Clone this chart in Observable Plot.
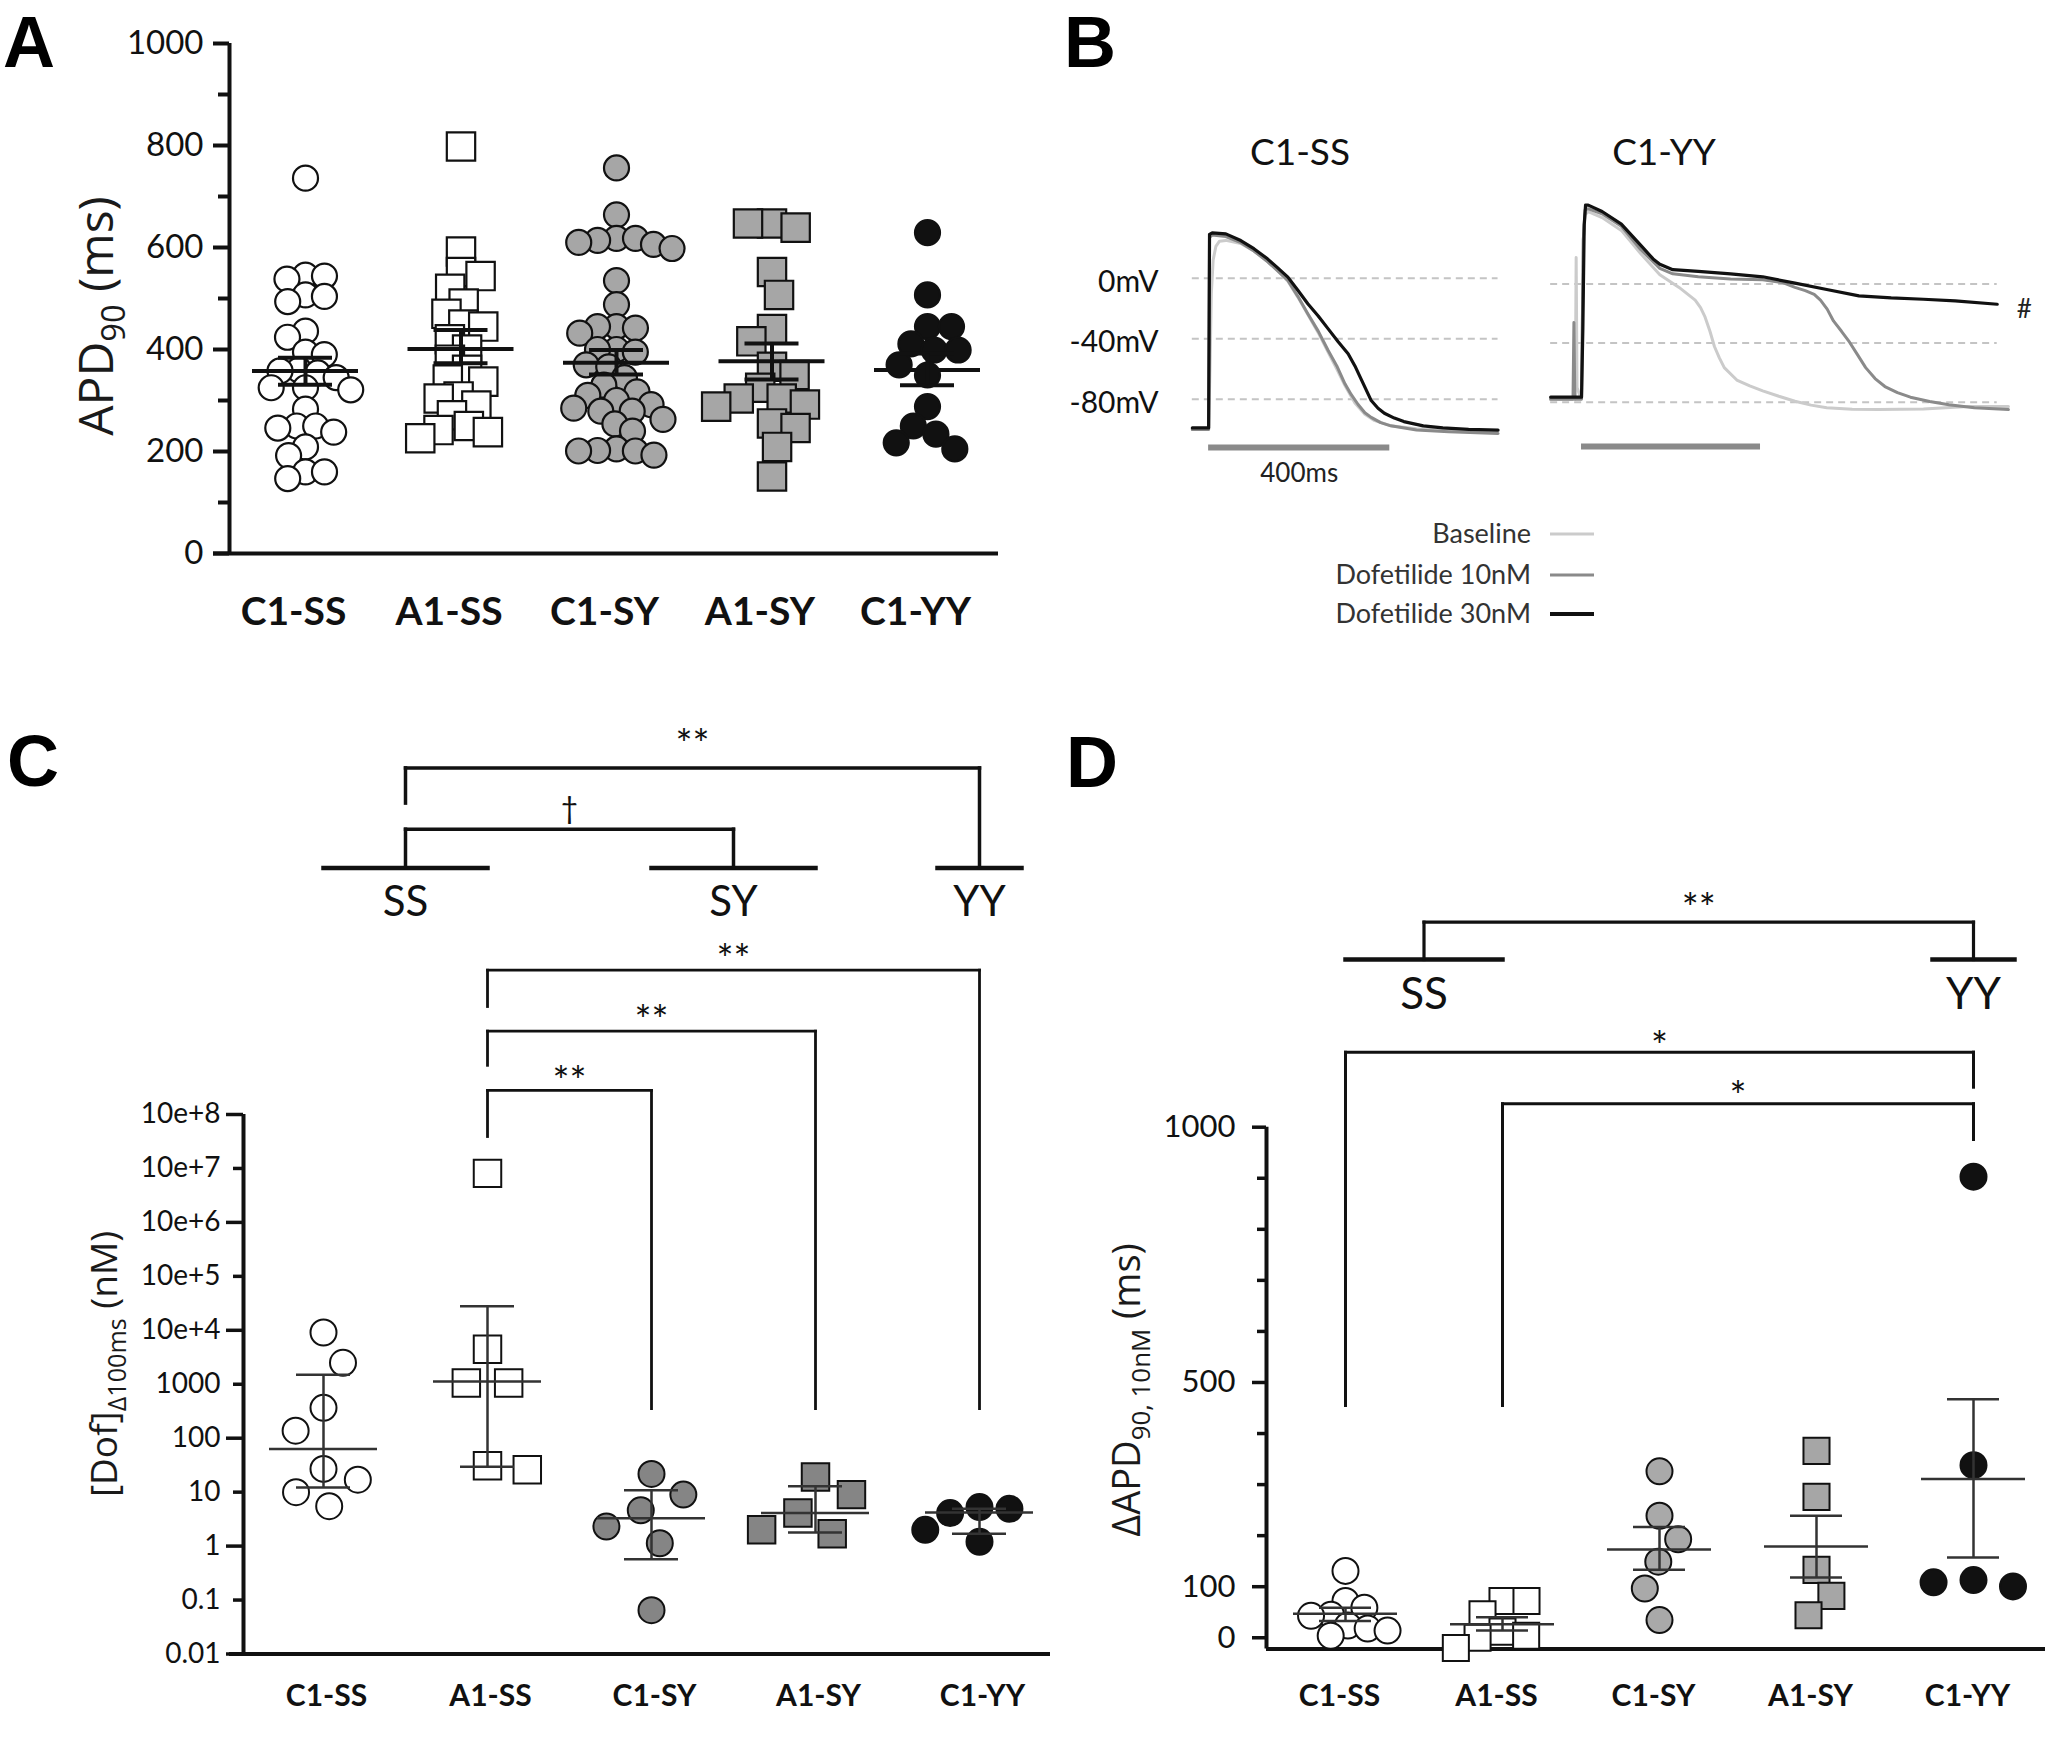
<!DOCTYPE html>
<html>
<head>
<meta charset="utf-8">
<script src="https://cdn.jsdelivr.net/npm/d3@7"></script>
<script src="https://cdn.jsdelivr.net/npm/@observablehq/plot@0.6"></script>
<style>
  body { margin: 0; background: #fff; }
  #fig { position: relative; width: 2064px; height: 1744px; background: #fff; overflow: hidden; font-family: Lato, sans-serif; color: #111; }
  svg text, svg tspan { white-space: pre; }
</style>
</head>
<body>
<div id="fig"></div>
<script>
// ---------------- DATA ----------------
const groups = ["C1-SS", "A1-SS", "C1-SY", "A1-SY", "C1-YY"];

// Panel A : APD90 (ms)
const apdC1SS = [736, 546, 544, 538, 507, 504, 494, 436, 424, 395, 390, 360, 358, 354, 345, 325, 325, 321, 283, 250, 250, 246, 238, 209, 192, 160, 160, 147];
const apdA1SS = [798, 592, 552, 544, 519, 490, 470, 449, 445, 420, 400, 380, 360, 341, 337, 308, 304, 290, 271, 250, 242, 238, 226];
const apdC1SY = [756, 664, 618, 618, 614, 610, 606, 598, 535, 488, 445, 445, 442, 432, 400, 400, 395, 370, 366, 345, 330, 317, 310, 300, 292, 285, 279, 279, 263, 254, 240, 205, 202, 201, 201, 193];
const apdA1SY = [647, 639, 647, 552, 507, 440, 416, 366, 350, 325, 304, 304, 292, 288, 255, 246, 209, 151];
const apdC1YY = [629, 507, 445, 445, 411, 399, 399, 370, 350, 288, 250, 234, 217, 205];
const apdMean = [358, 401, 374, 377, 360];
const apdSemLo = [331, 373, 351, 341, 330];
const apdSemHi = [384, 438, 399, 412, 392];
const apdTicks = [0, 200, 400, 600, 800, 1000];
const apdMinorTicks = [100, 300, 500, 700, 900];

// Panel B : action potentials [time ms, mV]
const mvTicks = [0, -40, -80];
const scaleBarMs = 400;
const ssBaseline = [[-36,-100],[-2,-100],[0,-100],[3,-60],[6,-10],[10,12],[16,21],[24,24.5],[38,25],[71,23],[100,18],[130,11],[152,5],[175,-2],[197,-12.5],[219,-24],[242,-36],[264,-49],[283,-60],[301,-71],[323,-82.5],[345,-90],[365,-94],[402,-97.5],[459,-99.5],[530,-100.5],[639,-101]];
const ss10 = [[-36,-100],[-2,-100],[0,-100],[1,-40],[2,27],[8,28.5],[38,27.5],[71,23.5],[100,18],[130,11],[152,5],[175,-1.5],[197,-12],[219,-23.5],[242,-35],[264,-47.8],[283,-58],[301,-69.8],[315,-77],[330,-83.5],[345,-89],[359,-92],[380,-95.5],[402,-97.6],[459,-100.4],[530,-101.5],[639,-102.6]];
const ss30 = [[-36,-99],[-2,-99],[0,-99],[1,-40],[2,29],[8,30],[38,29.3],[71,24.9],[100,19.5],[130,12.8],[152,7],[175,0.7],[197,-8],[219,-16.9],[242,-25],[264,-33.5],[286,-42],[308,-50],[323,-58],[338,-67.6],[359,-80.9],[374,-86],[388,-89.3],[410,-92.5],[431,-94.8],[474,-97.6],[517,-99],[574,-99.9],[639,-100.4]];
const yyBaseline = [[-69,-78],[-14,-78],[-12,18],[-10,-70],[-2,-77],[0,-77],[4,30],[8,47],[15,49],[46,45],[89,36.3],[132,20.6],[175,6.3],[218,-2.3],[254,-10.9],[266,-16],[276,-22.3],[287,-32],[297,-42.3],[308,-50],[319,-56.6],[347,-65],[376,-69],[405,-72.3],[441,-76],[477,-79.4],[513,-82],[548,-83.7],[605,-84.8],[663,-85],[764,-84.6],[864,-82.9],[954,-82.9]];
const yy10 = [[-69,-78],[-19,-78],[-17,-26],[-15,-78],[-2,-78],[0,-78],[4,30],[8,50],[14,51],[46,47.5],[89,39.1],[132,23.4],[175,10.6],[204,6.9],[261,4.9],[333,3.4],[405,2.9],[450,1],[477,-2.3],[500,-4.5],[520,-7],[534,-10.9],[549,-17],[563,-25],[581,-32],[599,-39.4],[617,-48],[635,-56.6],[656,-64],[678,-69.4],[706,-73.5],[735,-76.6],[778,-79.5],[821,-81.7],[878,-83.7],[954,-85]];
const yy30 = [[-69,-76.6],[-4,-76.6],[0,-76.6],[3,-30],[6,40],[9,53.4],[15,53.4],[46,49.1],[89,40.6],[132,26.3],[160,17],[175,13.4],[204,9.7],[261,8.6],[333,6.9],[405,4.9],[477,0.6],[548,-3.7],[620,-8],[692,-9.4],[764,-10.3],[835,-11.4],[929,-13.7]];
const legendLabels = ["Baseline", "Dofetilide 10nM", "Dofetilide 30nM"];

// Panel C : [Dof] at delta 100 ms (nM), geometric mean and 95% CI
const dofC1SS = [9100, 2500, 365, 138, 27, 17, 10, 5.5];
const dofA1SS = [8.1e6, 4470, 1050, 1050, 31, 26];
const dofC1SY = [21.8, 9, 4.6, 2.3, 1.13, 0.065];
const dofA1SY = [19, 9, 4.1, 2.0, 1.7];
const dofC1YY = [5.3, 4.9, 4.1, 2.0, 1.2];
const dofMean = [63, 1120, 3.3, 4.1, 4.2];
const dofLo = [12.2, 29.5, 0.57, 1.79, 1.7];
const dofHi = [1500, 28000, 10.8, 12.9, 4.9];
const dofTickValues = [0.01, 0.1, 1, 10, 100, 1000, 1e4, 1e5, 1e6, 1e7, 1e8];
const dofTickLabels = ["0.01", "0.1", "1", "10", "100", "1000", "10e+4", "10e+5", "10e+6", "10e+7", "10e+8"];

// Panel D : delta APD90 at 10 nM (ms)
const dApdC1SS = [131, 72, 59, 45, 43, 24, 18, 14, 4];
const dApdA1SS = [72, 72, 46, 12, 4, 0, -20];
const dApdC1SY = [326, 239, 193, 149, 96.5, 34.6];
const dApdA1SY = [366, 276, 133, 82, 44];
const dApdC1YY = [903, 338, 113, 100.6, 108.6];
const dApdMean = [47, 26.5, 173, 178.6, 311];
const dApdLo = [33, 14, 133, 118, 157];
const dApdHi = [59, 40, 217, 239, 467];
const dApdLabelTicks = [0, 100, 500, 1000];
const dApdMinorTicks = [200, 300, 400, 600, 700, 800, 900];

// Genotype groups and significance comparisons
const genotypeGroups = [["SS", ["C1-SS", "A1-SS"]], ["SY", ["C1-SY", "A1-SY"]], ["YY", ["C1-YY"]]];
const cGenoComparisons = [["SS", "YY", "**"], ["SS", "SY", "\u2020"]];
const cComparisons = [["A1-SS", "C1-YY", "**"], ["A1-SS", "A1-SY", "**"], ["A1-SS", "C1-SY", "**"]];
const dGenoComparisons = [["SS", "YY", "**"]];
const dComparisons = [["C1-SS", "C1-YY", "*"], ["A1-SS", "C1-YY", "*"]];

// ---------------- HELPERS ----------------
const fig = document.getElementById("fig");
const baseStyle = {fontFamily: "Lato, sans-serif", color: "#111", background: "transparent", overflow: "visible"};

function place(svg, left, top) {
  svg.style.position = "absolute";
  svg.style.left = left + "px";
  svg.style.top = top + "px";
  svg.style.maxWidth = "none";
  svg.style.background = "transparent";
  svg.style.overflow = "visible";
  fig.appendChild(svg);
  return svg;
}

// beeswarm offsets (pixels): dots of a group spread sideways, balanced left/right
function swarm(values, yPx, dmin) {
  const placed = [], out = [];
  let sum = 0;
  for (const v of values) {
    const py = yPx(v);
    const cands = [0];
    for (const p of placed) {
      const dy = py - p.y;
      if (Math.abs(dy) < dmin) {
        const dx = Math.sqrt(dmin * dmin - dy * dy);
        cands.push(p.x - dx, p.x + dx);
      }
    }
    const valid = cands.filter(c => placed.every(p => (p.x - c) ** 2 + (p.y - py) ** 2 >= dmin * dmin - 0.01));
    valid.sort((a, b) => Math.abs(a) - Math.abs(b));
    let best = valid.length ? valid[0] : 0;
    const ties = valid.filter(c => Math.abs(Math.abs(c) - Math.abs(best)) < 3);
    if (ties.length > 1) {
      const pref = ties.find(c => (sum > 0 ? c < 0 : c > 0));
      if (pref !== undefined) best = pref;
    }
    sum += best;
    placed.push({x: best, y: py});
    out.push(best);
  }
  return out;
}

function scatterPanel(o) {
  const x0 = (o.mL - o.c0) / o.step;
  const x1 = (o.width - o.mR - o.c0) / o.step;
  const yPx = (o.yType === "log" ? d3.scaleLog() : d3.scaleLinear()).domain(o.yDomain).range([o.height - o.mB, o.mT]);
  const rows = [];
  o.series.forEach((vals, gi) => {
    const offs = swarm(vals, yPx, o.styles[gi].dmin);
    vals.forEach((v, k) => rows.push({g: gi, v, xp: gi + offs[k] / o.step}));
  });
  const statRows = o.mean.map((m, i) => ({i, mean: m, lo: o.lo[i], hi: o.hi[i]}));
  const mh = o.meanHalf / o.step, ch = o.capHalf / o.step;
  const ls = {stroke: o.lineColor, strokeWidth: o.lineW};
  const marks = [
    Plot.ruleY([o.yDomain[0]], {insetLeft: -o.xAxisExt, stroke: "#111", strokeWidth: 4}),
    Plot.ruleX([x0], {y1: o.yDomain[0], y2: o.yDomain[1], stroke: "#111", strokeWidth: 4}),
    ...o.axes,
    Plot.axisX({ticks: d3.range(groups.length), tickFormat: i => groups[i], tickSize: 0, tickPadding: o.catPad,
      fontSize: o.catSize, fontWeight: "bold", dx: o.catDx, label: null}),
    ...o.styles.map((st, gi) => Plot.dot(rows.filter(r => r.g === gi), {
      x: "xp", y: "v", r: st.r, symbol: st.symbol, fill: st.fill, stroke: "#111", strokeWidth: o.dotStroke})),
    Plot.ruleY(statRows, {x1: d => d.i - mh, x2: d => d.i + mh, y: "mean", ...ls}),
    Plot.ruleY(statRows, {x1: d => d.i - ch, x2: d => d.i + ch, y: "lo", ...ls}),
    Plot.ruleY(statRows, {x1: d => d.i - ch, x2: d => d.i + ch, y: "hi", ...ls}),
    Plot.ruleX(statRows, {x: "i", y1: "lo", y2: "hi", ...ls})
  ];
  const svg = Plot.plot({
    width: o.width, height: o.height,
    marginLeft: o.mL, marginRight: o.mR, marginTop: o.mT, marginBottom: o.mB,
    x: {domain: [x0, x1]},
    y: {type: o.yType, domain: o.yDomain},
    style: baseStyle,
    marks
  });
  d3.select(svg).selectAll('[aria-label="x-axis tick label"] text, [aria-label="x-axis tick label"]').attr("font-weight", "bold");
  return place(svg, o.left, o.top);
}

function bracketPanel(o) {
  const idx = name => groups.indexOf(name);
  const ext = o.singleExt / o.step;
  const geno = {};
  genotypeGroups.forEach(([name, members]) => {
    const is = members.map(idx);
    const a = Math.min(...is), b = Math.max(...is);
    geno[name] = {a, b, mid: (a + b) / 2, single: a === b};
  });
  const bars = [], genoLinks = [], compLinks = [], labels = [];
  const used = new Set(o.genoComparisons.flatMap(c => [c[0], c[1]]));
  genotypeGroups.forEach(([name]) => {
    if (!used.has(name)) return;
    const g = geno[name];
    bars.push({x1: g.single ? g.a - ext : g.a, x2: g.single ? g.b + ext : g.b, y1: o.genoBarY, y2: o.genoBarY});
    labels.push({x: g.mid, y: o.genoLabelY, text: name, size: o.genoLabelSize});
  });
  o.genoComparisons.forEach(([g1, g2, star], k) => {
    const m1 = geno[g1].mid, m2 = geno[g2].mid, y = o.genoY[k];
    genoLinks.push({x1: m1, x2: m2, y1: y, y2: y});
    genoLinks.push({x1: m1, x2: m1, y1: y, y2: o.genoLegL[k]});
    genoLinks.push({x1: m2, x2: m2, y1: y, y2: o.genoLegR[k]});
    labels.push({x: (m1 + m2) / 2, y: o.genoStarY[k], text: star, size: star === "\u2020" ? o.daggerSize : o.starSize});
  });
  o.comparisons.forEach(([c1, c2, star], k) => {
    const a = idx(c1), b = idx(c2), y = o.compY[k];
    compLinks.push({x1: a, x2: b, y1: y, y2: y});
    compLinks.push({x1: a, x2: a, y1: y, y2: o.compLegL[k]});
    compLinks.push({x1: b, x2: b, y1: y, y2: o.compLegR[k]});
    labels.push({x: (a + b) / 2, y: o.compStarY[k], text: star, size: o.starSize});
  });
  const link = (data, w) => Plot.link(data, {x1: "x1", y1: "y1", x2: "x2", y2: "y2", stroke: "#111", strokeWidth: w, strokeLinecap: "square"});
  const svg = Plot.plot({
    width: o.width, height: o.height, margin: 0,
    x: {domain: [0, groups.length - 1], range: [o.c0, o.c0 + (groups.length - 1) * o.step], axis: null},
    y: {domain: [0, o.height], range: [0, o.height], axis: null},
    style: baseStyle,
    marks: [
      link(bars, o.barW), link(genoLinks, o.genoW), link(compLinks, o.compW),
      Plot.text(labels, {x: "x", y: "y", text: "text", fontSize: d => d.size, lineAnchor: "bottom", fill: "#111"})
    ]
  });
  return place(svg, o.left, o.top);
}

// ---------------- PANEL A ----------------
scatterPanel({
  left: 0, top: 0, width: 1013, height: 660, mL: 229, mR: 15, mT: 43, mB: 107,
  c0: 305, step: 155.5, yType: "linear", yDomain: [0, 1000],
  series: [apdC1SS, apdA1SS, apdC1SY, apdA1SY, apdC1YY],
  mean: apdMean, lo: apdSemLo, hi: apdSemHi,
  styles: [
    {symbol: "circle", r: 12.5, fill: "#fff", dmin: 19},
    {symbol: "square", r: 16, fill: "#fff", dmin: 20},
    {symbol: "circle", r: 12.5, fill: "#a6a6a6", dmin: 19},
    {symbol: "square", r: 16, fill: "#a6a6a6", dmin: 24},
    {symbol: "circle", r: 12.5, fill: "#111", dmin: 24}
  ],
  dotStroke: 2.2, meanHalf: 53, capHalf: 27, lineW: 4, lineColor: "#111",
  xAxisExt: 16, catPad: 44, catSize: 39, catDx: -12,
  axes: [
    Plot.axisY({ticks: apdTicks, tickSize: 16, tickPadding: 10, fontSize: 33, strokeWidth: 4, tickFormat: d => String(d), label: null}),
    Plot.axisY({ticks: apdMinorTicks, tickSize: 11, strokeWidth: 4, tickFormat: () => "", label: null})
  ]
});

// ---------------- PANEL B ----------------
const traceStyles = [
  {stroke: "#cbcbcb", strokeWidth: 3},
  {stroke: "#8a8a8a", strokeWidth: 3},
  {stroke: "#111", strokeWidth: 3.2}
];
function traceMarks(series) {
  return series.map((s, i) => Plot.line(s, {x: d => d[0], y: d => d[1], ...traceStyles[i], strokeLinejoin: "round"}));
}
const dashStyle = {stroke: "#c4c4c4", strokeWidth: 2, strokeDasharray: "7,5"};

place(Plot.plot({
  width: 460, height: 660, marginLeft: 137, marginRight: 15, marginTop: 217.2, marginBottom: 212.9,
  x: {domain: [-40, 640], axis: null},
  y: {domain: [-112, 40]},
  style: baseStyle,
  marks: [
    Plot.ruleY(mvTicks, {x1: ss30[0][0], x2: ss30[ss30.length - 1][0], ...dashStyle}),
    Plot.axisY({ticks: mvTicks, tickSize: 0, tickPadding: 32, fontSize: 30, dy: 4, tickFormat: d => d + "mV", label: null}),
    ...traceMarks([ssBaseline, ss10, ss30]),
    Plot.ruleY([-112], {x1: 0, x2: scaleBarMs, stroke: "#8a8a8a", strokeWidth: 6}),
    Plot.text([scaleBarMs + "ms"], {x: scaleBarMs / 2, y: -112, dy: 34, lineAnchor: "bottom", fontSize: 26, fill: "#222"})
  ]
}), 1053, 0);

place(Plot.plot({
  width: 551, height: 660, marginLeft: 36.7, marginRight: 53.4, marginTop: 194.9, marginBottom: 214,
  x: {domain: [-70, 960], axis: null},
  y: {domain: [-110, 60], axis: null},
  style: baseStyle,
  marks: [
    Plot.ruleY(mvTicks, {x1: yy30[0][0], x2: yy30[yy30.length - 1][0], ...dashStyle}),
    ...traceMarks([yyBaseline, yy10, yy30]),
    Plot.ruleY([-110], {x1: 0, x2: scaleBarMs, stroke: "#8a8a8a", strokeWidth: 6}),
    Plot.text([yy30[yy30.length - 1]], {x: d => d[0], y: d => d[1], text: () => "#", dx: 27, dy: 5, fontSize: 26, fill: "#222"})
  ]
}), 1513, 0);

// ---------------- PANEL C ----------------
scatterPanel({
  left: 0, top: 700, width: 1053, height: 1044, mL: 243, mR: 3, mT: 414, mB: 90.5,
  c0: 323, step: 164, yType: "log", yDomain: [0.01, 1e8],
  series: [dofC1SS, dofA1SS, dofC1SY, dofA1SY, dofC1YY],
  mean: dofMean, lo: dofLo, hi: dofHi,
  styles: [
    {symbol: "circle", r: 13, fill: "#fff", dmin: 36},
    {symbol: "square", r: 15.5, fill: "#fff", dmin: 40},
    {symbol: "circle", r: 13, fill: "#858585", dmin: 38},
    {symbol: "square", r: 15.5, fill: "#858585", dmin: 40},
    {symbol: "circle", r: 13, fill: "#111", dmin: 30}
  ],
  dotStroke: 2, meanHalf: 54, capHalf: 27, lineW: 2.5, lineColor: "#333",
  xAxisExt: 14, catPad: 31, catSize: 30, catDx: 3,
  axes: [
    Plot.axisY({ticks: dofTickValues, tickSize: 0, tickPadding: 23, fontSize: 28,
      tickFormat: d => dofTickLabels[dofTickValues.indexOf(d)], label: null}),
    Plot.axisY({ticks: dofTickValues.filter((d, i) => i % 2 === 0), tickSize: 17, strokeWidth: 3.5, tickFormat: () => "", label: null}),
    Plot.axisY({ticks: dofTickValues.filter((d, i) => i % 2 === 1), tickSize: 10, strokeWidth: 3.5, tickFormat: () => "", label: null})
  ]
});

bracketPanel({
  left: 0, top: 700, width: 1053, height: 1044, c0: 323, step: 164, singleExt: 42,
  genoComparisons: cGenoComparisons, comparisons: cComparisons,
  genoBarY: 167.5, genoLabelY: 215.6, genoLabelSize: 42,
  genoY: [67.4, 128.7], genoLegL: [102.6, 167.5], genoLegR: [167.5, 167.5], genoStarY: [58, 118],
  compY: [269.7, 330.6, 389.9], compLegL: [306, 364.8, 436], compLegR: [708, 708, 708], compStarY: [273, 334.7, 395],
  starSize: 40, daggerSize: 30, barW: 4.5, genoW: 3.5, compW: 2.8
});

// ---------------- PANEL D ----------------
scatterPanel({
  left: 1053, top: 700, width: 1011, height: 1044, mL: 213, mR: 19, mT: 426.7, mB: 95.5,
  c0: 292, step: 157, yType: "linear", yDomain: [-22, 1000],
  series: [dApdC1SS, dApdA1SS, dApdC1SY, dApdA1SY, dApdC1YY],
  mean: dApdMean, lo: dApdLo, hi: dApdHi,
  styles: [
    {symbol: "circle", r: 13, fill: "#fff", dmin: 20},
    {symbol: "square", r: 14.7, fill: "#fff", dmin: 24},
    {symbol: "circle", r: 13, fill: "#a9a9a9", dmin: 30},
    {symbol: "square", r: 14.7, fill: "#a6a6a6", dmin: 30},
    {symbol: "circle", r: 13, fill: "#111", dmin: 40}
  ],
  dotStroke: 2, meanHalf: 52, capHalf: 26, lineW: 2.5, lineColor: "#333",
  xAxisExt: 0, catPad: 36, catSize: 30, catDx: -6,
  axes: [
    Plot.axisY({ticks: dApdLabelTicks, tickSize: 14, tickPadding: 17, fontSize: 31, strokeWidth: 3.5, tickFormat: d => String(d), label: null}),
    Plot.axisY({ticks: dApdMinorTicks, tickSize: 9, strokeWidth: 3.5, tickFormat: () => "", label: null})
  ]
});

bracketPanel({
  left: 1053, top: 700, width: 1011, height: 1044, c0: 292, step: 157, singleExt: 41,
  genoComparisons: dGenoComparisons, comparisons: dComparisons,
  genoBarY: 259, genoLabelY: 308, genoLabelSize: 44,
  genoY: [221.7], genoLegL: [259], genoLegR: [259], genoStarY: [222.5],
  compY: [351.7, 403.3], compLegL: [705, 705], compLegR: [386.7, 439], compStarY: [360, 410],
  starSize: 40, daggerSize: 30, barW: 4.5, genoW: 3.2, compW: 3
});

// ---------------- ANNOTATIONS (letters, titles, legend) ----------------
const ann = d3.select(fig).append("svg")
  .attr("width", 2064).attr("height", 1744)
  .style("position", "absolute").style("left", "0px").style("top", "0px")
  .style("pointer-events", "none").style("overflow", "visible");

[["A", 3, 67], ["B", 1064, 67], ["C", 7, 786], ["D", 1066, 787]].forEach(([t, x, y]) => {
  ann.append("text").attr("x", x).attr("y", y).text(t)
    .attr("font-family", "'Liberation Sans', Arial, sans-serif").attr("font-weight", "bold").attr("font-size", 72).attr("fill", "#000");
});

function rotTitle(x, y, parts, size) {
  const t = ann.append("text").attr("transform", `translate(${x},${y}) rotate(-90)`)
    .attr("text-anchor", "middle").attr("font-family", "'Open Sans', sans-serif")
    .attr("font-size", size).attr("fill", "#1a1a1a");
  let shifted = 0;
  parts.forEach(([txt, sub]) => {
    const s = t.append("tspan").text(txt);
    const target = sub ? size * 0.25 : 0;
    if (target !== shifted) { s.attr("dy", target - shifted); shifted = target; }
    if (sub) s.attr("font-size", size * 0.68);
  });
}
rotTitle(113, 316, [["APD"], ["90", true], [" (ms)"]], 48);
rotTitle(117, 1364, [["[Dof]"], ["\u0394100ms", true], [" (nM)"]], 37);
rotTitle(1140, 1390, [["\u0394APD"], ["90, 10nM", true], [" (ms)"]], 38);

// Panel B sub-titles
[["C1-SS", 1300], ["C1-YY", 1664]].forEach(([t, x]) => {
  ann.append("text").attr("x", x).attr("y", 165).attr("text-anchor", "middle").text(t)
    .attr("font-family", "Lato, sans-serif").attr("font-size", 37).attr("fill", "#111");
});

// Panel B legend
const legendRowY = [534, 575, 614];
legendLabels.forEach((lab, i) => {
  ann.append("text").attr("x", 1531).attr("y", legendRowY[i] + 9).attr("text-anchor", "end").text(lab)
    .attr("font-family", "Lato, sans-serif").attr("font-size", 27).attr("fill", "#333");
  ann.append("line").attr("x1", 1550).attr("x2", 1594).attr("y1", legendRowY[i]).attr("y2", legendRowY[i])
    .attr("stroke", traceStyles[i].stroke).attr("stroke-width", i === 2 ? 4 : 3.2);
});
</script>
</body>
</html>
